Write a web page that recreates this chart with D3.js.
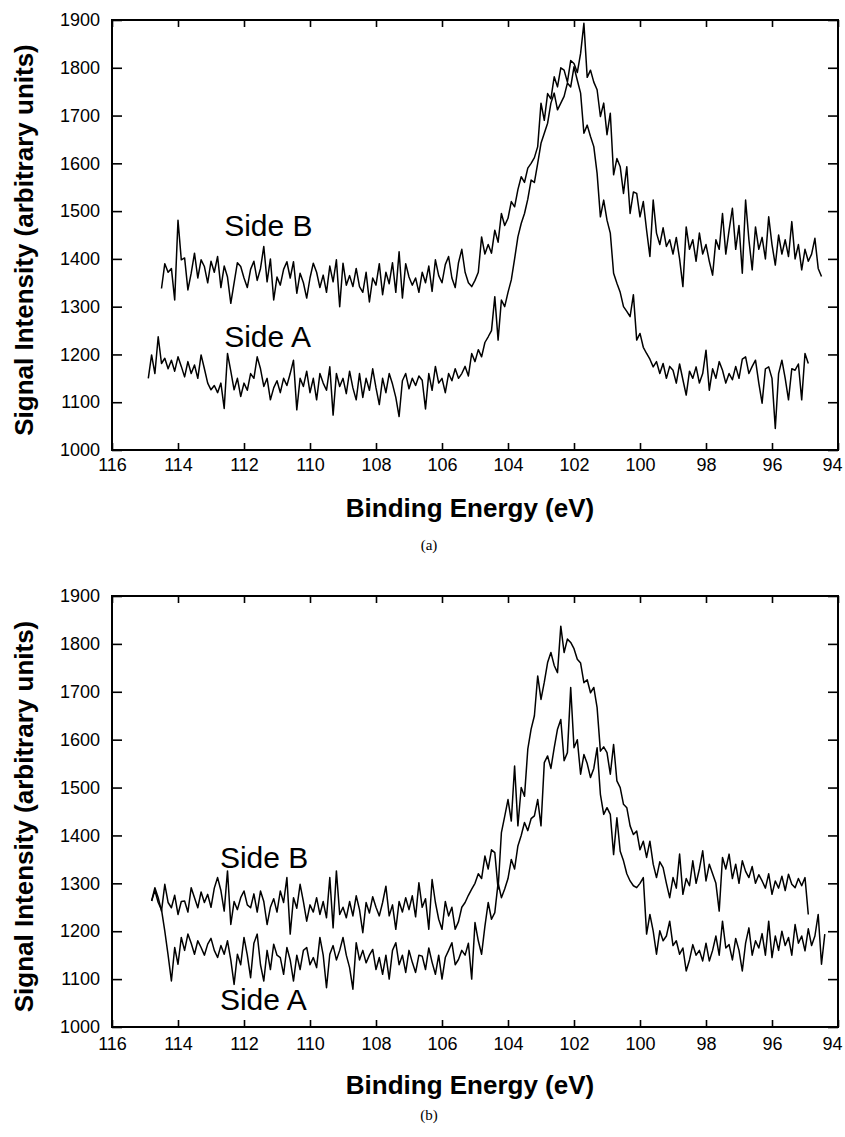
<!DOCTYPE html>
<html>
<head>
<meta charset="utf-8">
<script src="https://cdn.jsdelivr.net/npm/d3@7"></script>
<style>
  body { margin: 0; background: #fff; }
  .tick text { font-family: "Liberation Sans", Arial, Helvetica, sans-serif; font-size: 18px; fill: #000; }
  .tick line { stroke: #000; stroke-width: 1.6; }
</style>
</head>
<body>
<script>
// axis ticks (binding energy runs high -> low)
var xTicks = [116, 114, 112, 110, 108, 106, 104, 102, 100, 98, 96, 94];
var yTicks = [1000, 1100, 1200, 1300, 1400, 1500, 1600, 1700, 1800, 1900];

// spectra are sampled every 0.1 eV, from the start energy downwards
var energyStep = 0.1;

// panel (a)
var aSideBStart = 114.5;
var aSideB = [
  1338,1390,1372,1380,1314,1481,1398,1402,1335,1370,
  1412,1360,1398,1384,1350,1395,1372,1405,1340,1385,
  1362,1307,1350,1392,1384,1360,1340,1378,1395,1355,
  1380,1426,1352,1400,1314,1362,1345,1378,1394,1360,
  1394,1328,1370,1350,1318,1360,1391,1372,1340,1366,
  1330,1385,1352,1398,1300,1391,1345,1365,1342,1380,
  1342,1330,1372,1310,1360,1345,1390,1325,1372,1348,
  1392,1330,1415,1318,1390,1362,1345,1360,1330,1372,
  1350,1385,1332,1398,1365,1350,1388,1405,1360,1340,
  1392,1420,1372,1350,1342,1355,1372,1446,1410,1430,
  1412,1460,1435,1495,1470,1485,1520,1509,1545,1572,
  1560,1590,1600,1612,1635,1726,1690,1746,1735,1781,
  1760,1800,1795,1770,1815,1809,1790,1830,1893,1780,
  1795,1770,1754,1698,1726,1660,1705,1576,1610,1593,
  1537,1593,1495,1540,1537,1488,1520,1460,1405,1523,
  1454,1430,1465,1426,1440,1410,1445,1400,1342,1467,
  1420,1440,1395,1454,1410,1430,1395,1366,1440,1420,
  1495,1410,1460,1506,1420,1470,1370,1523,1440,1377,
  1467,1420,1445,1400,1488,1430,1387,1450,1410,1440,
  1405,1478,1400,1430,1377,1420,1395,1410,1443,1380,
  1363
];

var aSideAStart = 114.9;
var aSideA = [
  1150,1199,1160,1237,1181,1192,1170,1188,1165,1195,
  1175,1153,1185,1160,1178,1150,1199,1170,1140,1126,
  1135,1120,1140,1087,1202,1165,1126,1150,1112,1140,
  1125,1160,1150,1195,1170,1133,1150,1105,1130,1145,
  1120,1150,1135,1160,1188,1084,1150,1133,1165,1120,
  1150,1105,1160,1140,1125,1174,1073,1160,1133,1150,
  1118,1165,1130,1105,1160,1110,1150,1125,1170,1130,
  1095,1150,1120,1160,1138,1110,1070,1145,1160,1128,
  1150,1135,1155,1146,1086,1160,1125,1175,1140,1150,
  1120,1160,1145,1170,1150,1160,1175,1155,1202,1185,
  1210,1195,1225,1237,1250,1321,1230,1314,1300,1330,
  1356,1400,1446,1474,1495,1525,1565,1560,1600,1642,
  1663,1684,1726,1747,1712,1726,1740,1768,1760,1802,
  1774,1747,1663,1680,1656,1635,1579,1488,1523,1481,
  1454,1370,1349,1330,1300,1290,1279,1325,1230,1244,
  1215,1202,1190,1174,1185,1160,1181,1150,1175,1167,
  1140,1180,1147,1115,1165,1150,1174,1140,1160,1209,
  1125,1170,1150,1185,1167,1140,1160,1147,1175,1150,
  1190,1195,1160,1175,1188,1140,1098,1170,1174,1150,
  1045,1160,1188,1150,1105,1170,1167,1180,1105,1202,
  1181
];

// panel (b)
var bSideBStart = 114.8;
var bSideB = [
  1263,1291,1270,1242,1298,1260,1249,1275,1235,1262,
  1263,1240,1291,1270,1249,1282,1260,1277,1250,1290,
  1312,1285,1242,1326,1214,1262,1245,1270,1284,1255,
  1249,1278,1240,1284,1262,1214,1250,1268,1240,1284,
  1260,1312,1194,1270,1248,1298,1262,1221,1255,1240,
  1270,1235,1262,1228,1312,1207,1326,1235,1250,1228,
  1262,1232,1274,1245,1197,1260,1238,1272,1250,1232,
  1260,1294,1232,1255,1204,1262,1240,1270,1245,1274,
  1230,1301,1250,1268,1204,1308,1260,1225,1204,1262,
  1232,1250,1204,1220,1250,1260,1275,1288,1300,1320,
  1310,1357,1330,1370,1364,1288,1406,1440,1475,1430,
  1545,1420,1500,1482,1580,1622,1650,1733,1684,1720,
  1761,1782,1755,1740,1837,1782,1810,1803,1790,1768,
  1760,1719,1725,1698,1709,1667,1576,1585,1573,1528,
  1590,1514,1500,1465,1458,1420,1402,1409,1370,1388,
  1354,1388,1340,1312,1345,1333,1300,1270,1312,1290,
  1361,1277,1310,1295,1347,1300,1330,1368,1305,1340,
  1320,1300,1242,1354,1330,1361,1310,1340,1300,1347,
  1325,1312,1335,1300,1318,1305,1290,1320,1277,1305,
  1290,1315,1285,1319,1298,1291,1310,1295,1312,1235
];

var bSideAStart = 114.8;
var bSideA = [
  1263,1285,1260,1245,1200,1150,1096,1166,1131,1187,
  1160,1194,1175,1152,1180,1166,1150,1173,1185,1160,
  1145,1170,1152,1180,1140,1089,1152,1130,1187,1150,
  1103,1175,1194,1130,1096,1160,1120,1173,1150,1145,
  1110,1166,1140,1096,1150,1120,1160,1166,1130,1145,
  1124,1187,1150,1082,1152,1170,1140,1160,1187,1150,
  1124,1079,1176,1140,1160,1134,1150,1162,1120,1145,
  1110,1150,1100,1160,1176,1130,1150,1114,1160,1135,
  1114,1150,1148,1120,1165,1135,1110,1150,1100,1145,
  1160,1176,1130,1141,1160,1150,1175,1100,1218,1180,
  1152,1210,1260,1225,1239,1301,1270,1288,1310,1350,
  1330,1378,1400,1427,1410,1435,1441,1475,1420,1552,
  1566,1540,1583,1622,1642,1556,1573,1709,1583,1600,
  1528,1569,1550,1521,1540,1583,1486,1444,1458,1444,
  1360,1437,1367,1347,1320,1305,1295,1291,1300,1312,
  1194,1235,1200,1152,1201,1180,1190,1221,1170,1180,
  1152,1165,1117,1140,1172,1150,1160,1138,1175,1138,
  1160,1190,1150,1221,1165,1172,1140,1185,1160,1117,
  1175,1207,1150,1180,1165,1195,1150,1221,1145,1190,
  1160,1200,1170,1187,1150,1214,1175,1190,1159,1205,
  1170,1190,1235,1131,1194
];

var svg = d3.select("body").append("svg")
    .attr("width", 845)
    .attr("height", 1137);

var sansBold = "'Liberation Sans', Arial, Helvetica, sans-serif";

function toPoints(start, values) {
    return values.map(function (v, i) {
        return { e: start - i * energyStep, v: v };
    });
}

function drawPanel(p) {
    var x = d3.scaleLinear().domain([116, 94]).range([112, 838]);
    var y = d3.scaleLinear().domain([1000, 1900]).range([p.bottom, p.top]);

    var g = svg.append("g");

    // ticks pointing inward on all four sides
    var xAxisGroup = g.append("g")
        .attr("transform", "translate(0," + p.bottom + ")")
        .call(d3.axisBottom(x).tickValues(xTicks).tickSize(-7).tickPadding(p.xPad).tickFormat(d3.format("d")))
        .call(function (a) { a.select(".domain").remove(); });
    // keep the last label (94) inside the page
    xAxisGroup.selectAll(".tick text")
        .filter(function (d) { return d === 94; })
        .attr("dx", "-6");

    g.append("g")
        .attr("transform", "translate(0," + p.top + ")")
        .call(d3.axisTop(x).tickValues(xTicks).tickSize(-7).tickFormat(""))
        .call(function (a) { a.select(".domain").remove(); });
    g.append("g")
        .attr("transform", "translate(112,0)")
        .call(d3.axisLeft(y).tickValues(yTicks).tickSize(-10).tickPadding(12).tickFormat(d3.format("d")))
        .call(function (a) { a.select(".domain").remove(); });
    g.append("g")
        .attr("transform", "translate(838,0)")
        .call(d3.axisRight(y).tickValues(yTicks).tickSize(-10).tickFormat(""))
        .call(function (a) { a.select(".domain").remove(); });

    g.append("rect")
        .attr("x", 112).attr("y", p.top)
        .attr("width", 838 - 112).attr("height", p.bottom - p.top)
        .attr("fill", "none")
        .attr("stroke", "#000")
        .attr("stroke-width", 2);

    var line = d3.line()
        .x(function (d) { return x(d.e); })
        .y(function (d) { return y(d.v); });

    p.series.forEach(function (s) {
        g.append("path")
            .datum(toPoints(s.start, s.values))
            .attr("d", line)
            .attr("fill", "none")
            .attr("stroke", "#000")
            .attr("stroke-width", 1.5)
            .attr("stroke-linejoin", "round");
    });

    p.labels.forEach(function (l) {
        g.append("text")
            .attr("x", x(l.e))
            .attr("y", y(l.v))
            .attr("font-family", sansBold)
            .attr("font-size", 30)
            .text(l.text);
    });

    // axis titles
    g.append("text")
        .attr("x", 470)
        .attr("y", p.bottom + 67)
        .attr("text-anchor", "middle")
        .attr("font-family", sansBold)
        .attr("font-weight", "bold")
        .attr("font-size", 26)
        .text("Binding Energy (eV)");

    g.append("text")
        .attr("transform", "translate(33," + ((p.top + p.bottom) / 2 + 5) + ") rotate(-90)")
        .attr("text-anchor", "middle")
        .attr("font-family", sansBold)
        .attr("font-weight", "bold")
        .attr("font-size", 26)
        .text("Signal Intensity (arbitrary units)");

    g.append("text")
        .attr("x", 429)
        .attr("y", p.captionY)
        .attr("text-anchor", "middle")
        .attr("font-family", "'Liberation Serif', 'Times New Roman', serif")
        .attr("font-size", 15)
        .text(p.caption);
}

drawPanel({
    top: 20, bottom: 450, xPad: 8,
    series: [
        { start: aSideBStart, values: aSideB },
        { start: aSideAStart, values: aSideA }
    ],
    labels: [
        { text: "Side B", e: 112.6, v: 1448 },
        { text: "Side A", e: 112.6, v: 1216 }
    ],
    caption: "(a)", captionY: 550
});

drawPanel({
    top: 596, bottom: 1027, xPad: 10,
    series: [
        { start: bSideBStart, values: bSideB },
        { start: bSideAStart, values: bSideA }
    ],
    labels: [
        { text: "Side B", e: 112.73, v: 1332 },
        { text: "Side A", e: 112.73, v: 1035 }
    ],
    caption: "(b)", captionY: 1120
});
</script>
</body>
</html>
